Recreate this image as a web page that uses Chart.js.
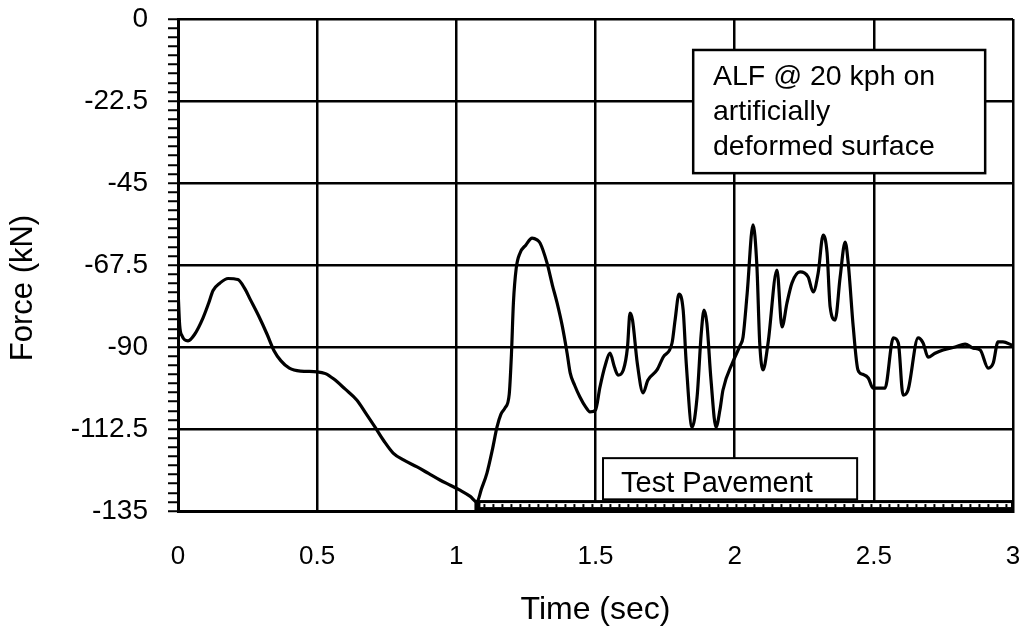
<!DOCTYPE html>
<html><head><meta charset="utf-8">
<script src="https://cdn.jsdelivr.net/npm/chart.js@4/dist/chart.umd.min.js"></script>
<style>html,body{margin:0;padding:0;background:#fff;}canvas{display:block;}</style>
</head><body>
<canvas id="c" width="1019" height="631"></canvas>
<script>
const timeSec = [0.000,0.006,0.015,0.036,0.06,0.09,0.11,0.126,0.15,0.18,0.215,0.24,0.26,0.29,0.32,0.345,0.37,0.40,0.44,0.50,0.53,0.56,0.60,0.643,0.675,0.708,0.74,0.773,0.81,0.859,0.90,0.941,0.98,1.013,1.05,1.074,1.09,1.11,1.13,1.146,1.16,1.175,1.19,1.198,1.205,1.215,1.229,1.25,1.272,1.29,1.301,1.326,1.345,1.362,1.38,1.398,1.409,1.425,1.444,1.465,1.48,1.50,1.516,1.535,1.552,1.568,1.581,1.60,1.615,1.624,1.633,1.65,1.671,1.688,1.721,1.743,1.775,1.786,1.800,1.815,1.826,1.847,1.865,1.88,1.89,1.90,1.915,1.933,1.947,1.958,1.994,2.02,2.03,2.045,2.066,2.08,2.09,2.102,2.12,2.152,2.17,2.188,2.206,2.235,2.264,2.282,2.30,2.318,2.332,2.343,2.361,2.379,2.397,2.408,2.426,2.443,2.46,2.48,2.497,2.54,2.57,2.588,2.605,2.623,2.659,2.677,2.695,2.72,2.749,2.792,2.828,2.857,2.882,2.911,2.929,2.946,2.964,2.997];
const forceKN = [-74,-84,-87,-88.3,-86.5,-82,-78,-74.5,-72.5,-71.2,-71.5,-74,-77,-81.5,-86.5,-91,-93.8,-95.8,-96.6,-96.8,-97.3,-98.8,-101.5,-104.6,-108.2,-112,-115.8,-119.1,-121,-122.9,-124.7,-126.5,-128,-129.3,-131,-132.5,-129,-124.6,-118,-112,-108.5,-106.7,-103,-92,-78,-68.5,-64.2,-62,-60.1,-60.6,-61.5,-67,-73,-77.9,-84,-91.7,-97.1,-100.5,-103.7,-106.5,-107.8,-107.3,-101,-95,-91.7,-95.5,-97.7,-96.3,-90,-80.7,-82.6,-94.4,-102.6,-99.1,-96.3,-92.8,-88.9,-82.6,-75.5,-79.9,-94.4,-112,-103.7,-86.2,-79.9,-83.4,-99.1,-112,-107.3,-101.8,-94,-89.5,-87.3,-75.2,-56.5,-68,-88.9,-96.3,-88.9,-68.9,-84.5,-77.9,-72.4,-69.4,-70.8,-74.9,-69.7,-59.3,-64.2,-79,-82.6,-70.8,-61.2,-67,-84.5,-96.3,-97.5,-98.5,-101.3,-101.3,-87.5,-88.9,-103.2,-101.8,-87.5,-88.9,-92.8,-91.7,-90.8,-90,-89.2,-90.3,-90.8,-95.8,-94.4,-88.6,-88.6,-89.5];
const xTickLabels = ['0','0.5','1','1.5','2','2.5','3'];
const yTickLabels = ['0','-22.5','-45','-67.5','-90','-112.5','-135'];
const xTitle = 'Time (sec)';
const yTitle = 'Force (kN)';
const noteLines = ['ALF @ 20 kph on','artificially','deformed surface'];
const pavementLabel = 'Test Pavement';

const FONT = '"Liberation Sans", Arial, Helvetica, sans-serif';
const isMajor = v => Math.abs(v/22.5 - Math.round(v/22.5)) < 1e-6;

const annot = {
  id: 'annot',
  afterDatasetsDraw(chart) {
    const {ctx, scales: {x, y}} = chart;
    ctx.save();
    // pavement strip
    const sx0 = x.getPixelForValue(1.065), sx1 = x.getPixelForValue(3);
    const syb = y.getPixelForValue(-135), syt = y.getPixelForValue(-132);
    ctx.fillStyle = '#000';
    ctx.fillRect(sx0, syt, sx1 - sx0, syb - syt);
    ctx.fillStyle = '#fff';
    ctx.fillRect(sx0 + 6, syt + 3, sx1 - sx0 - 8, 4);
    ctx.fillStyle = '#000';
    for (let px = sx0 + 9; px < sx1 - 4; px += 9) ctx.fillRect(px, syt + 4, 2, 3);
    // Test Pavement box
    const bx0 = x.getPixelForValue(1.527), bx1 = x.getPixelForValue(2.44);
    const by0 = y.getPixelForValue(-120.5), by1 = y.getPixelForValue(-131.8);
    ctx.fillStyle = '#fff';
    ctx.fillRect(bx0, by0, bx1 - bx0, by1 - by0);
    ctx.strokeStyle = '#000'; ctx.lineWidth = 2;
    ctx.strokeRect(bx0, by0, bx1 - bx0, by1 - by0);
    ctx.fillStyle = '#000';
    ctx.font = '29px ' + FONT;
    ctx.textAlign = 'left'; ctx.textBaseline = 'alphabetic';
    ctx.fillText(pavementLabel, x.getPixelForValue(1.592), y.getPixelForValue(-129.8));
    // ALF note box
    const nx0 = x.getPixelForValue(1.851), nx1 = x.getPixelForValue(2.9);
    const ny0 = y.getPixelForValue(-8.5), ny1 = y.getPixelForValue(-42.3);
    ctx.fillStyle = '#fff';
    ctx.fillRect(nx0, ny0, nx1 - nx0, ny1 - ny0);
    ctx.lineWidth = 2.5;
    ctx.strokeRect(nx0, ny0, nx1 - nx0, ny1 - ny0);
    ctx.fillStyle = '#000';
    ctx.font = '28.5px ' + FONT;
    const baseVals = [-18.1, -27.7, -37.3];
    noteLines.forEach((s, i) => ctx.fillText(s, x.getPixelForValue(1.922), y.getPixelForValue(baseVals[i])));
    // y title
    ctx.translate(23, (y.top + y.bottom) / 2 + 23);
    ctx.rotate(-Math.PI / 2);
    ctx.textAlign = 'center'; ctx.textBaseline = 'middle';
    ctx.font = '31px ' + FONT;
    ctx.fillText(yTitle, 0, 0);
    ctx.restore();
  }
};

new Chart(document.getElementById('c'), {
  type: 'line',
  data: {
    datasets: [{
      data: timeSec.map((t, i) => ({x: t, y: forceKN[i]})),
      borderColor: '#000', borderWidth: 3.2, pointRadius: 0,
      cubicInterpolationMode: 'monotone', fill: false
    }]
  },
  options: {
    responsive: false, animation: false,
    layout: {padding: {left: 0, top: 19, right: 6, bottom: 0}},
    plugins: {legend: {display: false}, tooltip: {enabled: false}},
    scales: {
      x: {
        type: 'linear', min: 0, max: 3,
        afterFit: s => { s.height = 120; s.paddingLeft = 0; s.paddingRight = 0; },
        grid: {color: '#000', lineWidth: 2.5, drawTicks: false},
        border: {display: true, color: '#000', width: 3},
        ticks: {stepSize: 0.5, padding: 30, color: '#000', font: {family: FONT, size: 26},
          callback: v => xTickLabels[Math.round(v / 0.5)] ?? ''},
        title: {display: true, text: xTitle, color: '#000', font: {family: FONT, size: 32}, padding: {top: 0, bottom: 2}}
      },
      y: {
        type: 'linear', min: -135, max: 0,
        afterFit: s => { s.width = 178; s.paddingTop = 0; s.paddingBottom = 0; },
        grid: {color: c => isMajor(c.tick.value) ? '#000' : 'rgba(0,0,0,0)', tickColor: '#000',
          lineWidth: 2.5, tickWidth: 2, tickLength: 10},
        border: {display: true, color: '#000', width: 3},
        ticks: {stepSize: 2.5, autoSkip: false, maxTicksLimit: 100, padding: 20, color: '#000',
          font: {family: FONT, size: 28},
          callback: v => isMajor(v) ? yTickLabels[Math.round(-v / 22.5)] : ''}
      }
    }
  },
  plugins: [annot]
});
</script>
</body></html>
